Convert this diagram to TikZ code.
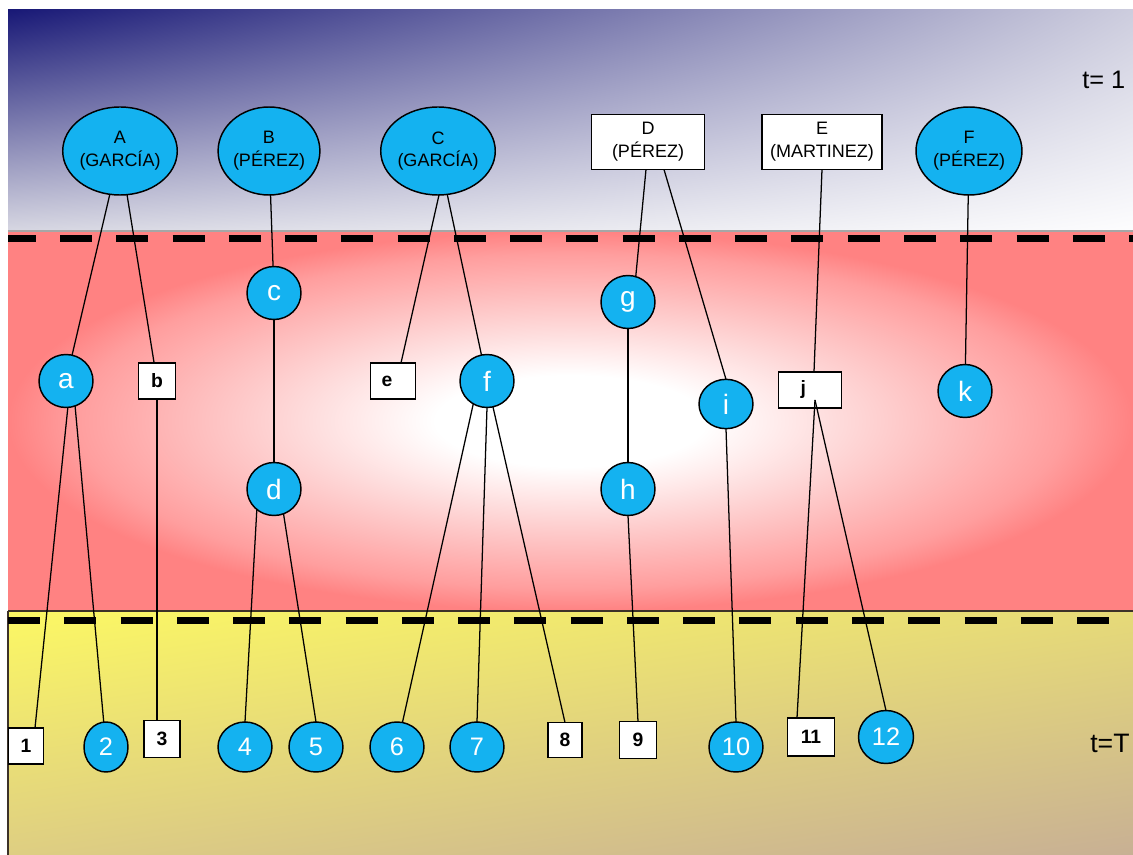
\documentclass[tikz,border=0pt]{standalone}
\usepackage{fontspec}
\setmainfont{Liberation Sans}
\usetikzlibrary{shapes.geometric,calc,shadings}
\definecolor{nodeblue}{RGB}{20,178,240}
\definecolor{topUL}{RGB}{24,24,118}
\definecolor{topUR}{RGB}{205,205,222}
\definecolor{topLL}{RGB}{215,215,226}
\definecolor{topLR}{RGB}{253,253,254}
\definecolor{redE}{RGB}{255,130,130}
\definecolor{redA}{RGB}{255,158,158}
\definecolor{redB}{RGB}{254,200,200}
\definecolor{yelUL}{RGB}{252,248,100}
\definecolor{yelUR}{RGB}{230,218,120}
\definecolor{yelLL}{RGB}{222,206,130}
\definecolor{yelLR}{RGB}{200,176,148}
\definecolor{edgeline}{RGB}{60,50,40}
\pgfdeclareradialshading{redglow}{\pgfpoint{0bp}{0bp}}{color(0bp)=(white); color(6bp)=(white); color(15bp)=(redB); color(22bp)=(redA); color(25bp)=(redE); color(50bp)=(redE)}
\tikzset{
  bub/.style={ellipse, draw=black, line width=1.1pt, fill=nodeblue, text=white, inner sep=0pt, outer sep=0pt, font=\fontsize{19}{21}\selectfont},
  lbub/.style={bub, font=\fontsize{21}{23}\selectfont},
  big/.style={ellipse, draw=black, line width=1.1pt, fill=nodeblue, text=black, inner sep=0pt, outer sep=0pt, minimum height=66pt, align=center, font=\fontsize{13.5}{17}\selectfont},
  namebox/.style={rectangle, draw=black, line width=1.1pt, fill=white, text=black, inner sep=0pt, outer sep=0pt, minimum height=41.25pt, align=center, font=\fontsize{13.5}{17}\selectfont},
  sq/.style={rectangle, draw=black, line width=1.4pt, fill=white, text=black, inner sep=0pt, outer sep=0pt, minimum height=27pt, font=\bfseries\fontsize{14.5}{16}\selectfont},
  link/.style={line width=0.95pt, black},
  sepline/.style={line width=5.25pt, black, dash pattern=on 24pt off 18.2pt},
  tlabel/.style={text=black, inner sep=0pt, anchor=base west}
}
\begin{document}
\begin{tikzpicture}[x=0.75pt,y=-0.75pt]
\useasboundingbox (0,0) rectangle (1133,855);
\fill[white] (0,0) rectangle (1133,855);
% backgrounds
\shade[upper left=topUL, upper right=topUR, lower left=topLL, lower right=topLR] (8,9.5) rectangle (1133,231);
\fill[redE] (8,231) rectangle (1133,611);
\shade[shading=redglow] (8,231) rectangle (1133,611);
\shade[upper left=yelUL, upper right=yelUR, lower left=yelLL, lower right=yelLR] (8,611) rectangle (1133,855);
\draw[gray!70, line width=1.3pt] (8,231) -- (1133,231);
\draw[edgeline, line width=1.3pt] (8,611) -- (1133,611);
\draw[edgeline, line width=0.9pt] (8,611) -- (8,855);
% dashed separators
\draw[sepline, dash phase=3.2pt] (8,239) -- (1133,239);
\draw[sepline] (8,621) -- (1133,621);
% time labels
\node[tlabel, font=\fontsize{19}{21}\selectfont] (t1) at (1082,89) {t= 1};
\node[tlabel, font=\fontsize{20}{22}\selectfont] (tT) at (1090,753) {t=T};
% top row
\node[big, minimum width=78pt] (A) at (120,151) {A\\(GARCÍA)};
\node[big, minimum width=74.25pt] (B) at (269,151) {B\\(PÉREZ)};
\node[big, minimum width=73.5pt] (C) at (438,151) {C\\(GARCÍA)};
\node[namebox, minimum width=84.75pt] (D) at (648,142) {D\\(PÉREZ)};
\node[namebox, minimum width=90pt] (E) at (822,142) {E\\(MARTINEZ)};
\node[big, minimum width=79.5pt] (F) at (969,151) {F\\(PÉREZ)};
% middle row
\node[lbub, minimum width=40.5pt, minimum height=39.75pt] (a) at (66,381) {a};
\node[sq, minimum width=27.75pt] (b) at (157,381) {b};
\node[lbub, minimum width=40.5pt, minimum height=39.75pt] (c) at (274,293) {c};
\node[lbub, minimum width=40.5pt, minimum height=39.75pt] (d) at (274,489) {d};
\node[sq, minimum width=33.75pt] (e) at (393,381) {e\hspace*{9pt}};
\node[lbub, minimum width=40.5pt, minimum height=39.75pt] (f) at (487,381) {f};
\node[lbub, minimum width=40.5pt, minimum height=39.75pt] (g) at (628,302) {g};
\node[lbub, minimum width=40.5pt, minimum height=39.75pt] (h) at (628,489) {h};
\node[lbub, minimum width=40.5pt, minimum height=37pt] (i) at (726,404) {i};
\node[sq, minimum width=47.25pt] (j) at (810,390) {j\hspace*{10pt}};
\node[lbub, minimum width=40.5pt, minimum height=39.75pt] (k) at (965,391) {k};
% bottom row
\node[sq, minimum width=26.25pt] (n1) at (26,746) {1};
\node[bub, minimum width=33pt, minimum height=37.5pt] (n2) at (106,747) {2};
\node[sq, minimum width=27pt, minimum height=27.75pt] (n3) at (162,739) {3};
\node[bub, minimum width=40.5pt, minimum height=37.5pt] (n4) at (245,747) {4};
\node[bub, minimum width=40.5pt, minimum height=37.5pt] (n5) at (316,747) {5};
\node[bub, minimum width=40.5pt, minimum height=37.5pt] (n6) at (397,747) {6};
\node[bub, minimum width=40.5pt, minimum height=37.5pt] (n7) at (477,747) {7};
\node[sq, minimum width=25.5pt, minimum height=26.25pt] (n8) at (565,740) {8};
\node[sq, minimum width=27.75pt, minimum height=27.75pt] (n9) at (638,740) {9};
\node[bub, minimum width=40.5pt, minimum height=37.5pt] (n10) at (736,747) {10};
\node[sq, minimum width=35.25pt, minimum height=28.5pt] (n11) at (811,737) {11};
\node[bub, minimum width=41.25pt, minimum height=39.75pt] (n12) at (886,737) {12};
% connectors
\draw[link] (A) -- (a);
\draw[link] (A) -- (b);
\draw[link] (B) -- (c);
\draw[link] ($(C.south)+(1,0)$) -- ($(e.north)+(8,0)$);
\draw[link] (C) -- (f);
\draw[link] (a.-86) -- ($(n1.north)+(9,0)$);
\draw[link] (a.-70) -- (n2);
\draw[link] (b.south) -- (b.south |- n3.north);
\draw[link] (c) -- (d);
\draw[link] (d.-130) -- (n4.north);
\draw[link] (d.-69) -- (n5.north);
\draw[link] (f.-121) -- (n6);
\draw[link] (f.south) -- (n7.north);
\draw[link] (f.-77) -- (n8.north);
\draw[link] ($(D.south)+(-2,0)$) -- (g.73);
\draw[link] ($(D.south)+(16,0)$) -- (i.north);
\draw[link] (E.south) -- ($(j.north)+(4,0)$);
\draw[link] (g) -- (h);
\draw[link] (h.south) -- (n9.north);
\draw[link] (i.south) -- (n10.north);
\draw[link] (F) -- (k);
\coordinate (jx) at ($(j.center)+(5,10)$);
\draw[link] (jx) -- ($(n11.north)+(-14,0)$);
\draw[link] (jx) -- (n12.north);
\end{tikzpicture}
\end{document}
